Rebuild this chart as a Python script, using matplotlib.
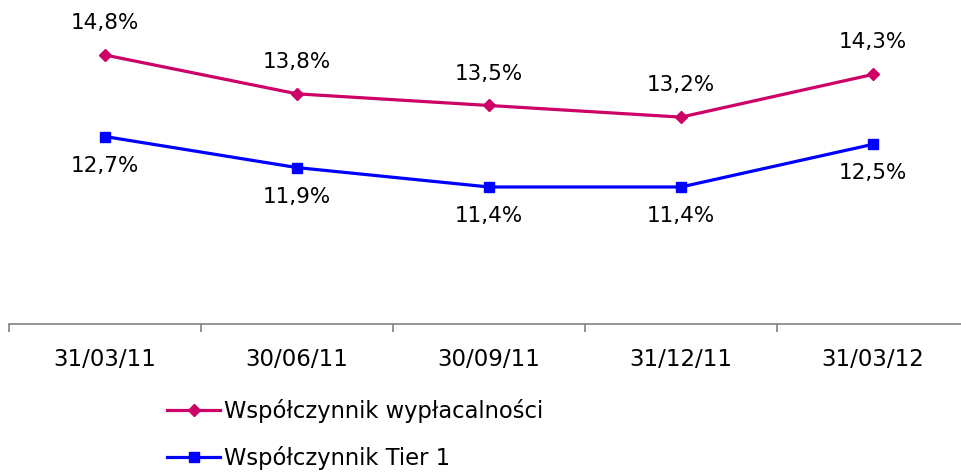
import matplotlib

matplotlib.use('agg')

import matplotlib.pyplot as plt

dates = ['31/03/11', '30/06/11', '30/09/11', '31/12/11', '31/03/12']
solvency = [14.8, 13.8, 13.5, 13.2, 14.3]
tier1 = [12.7, 11.9, 11.4, 11.4, 12.5]
solvency_labels = ['14,8%', '13,8%', '13,5%', '13,2%', '14,3%']
tier1_labels = ['12,7%', '11,9%', '11,4%', '11,4%', '12,5%']

PINK = '#CC0066'
BLUE = '#0000FF'
GRAY = '#808080'

plt.rcParams['font.family'] = ['DejaVu Sans']

W, H = 961, 472
fig = plt.figure(figsize=(W / 100, H / 100), dpi=100)
ax = fig.add_axes([9 / W, 1 - 324 / H, 960 / W, 314 / H])

x = list(range(len(dates)))
l1, = ax.plot(x, solvency, color=PINK, lw=2.3, marker='D', ms=6.5,
              label='Współczynnik wypłacalności')
l2, = ax.plot(x, tier1, color=BLUE, lw=2.3, marker='s', ms=7,
              label='Współczynnik Tier 1')

for xi, v, s in zip(x, solvency, solvency_labels):
    ax.annotate(s, (xi, v), xytext=(0, 23), textcoords='offset points',
                ha='center', va='center', fontsize=15.5)
for xi, v, s in zip(x, tier1, tier1_labels):
    ax.annotate(s, (xi, v), xytext=(0, -21), textcoords='offset points',
                ha='center', va='center', fontsize=15.5)

ax.set_xlim(-0.5, len(dates) - 0.5)
ax.set_ylim(7.87, 15.96)

for side in ['top', 'right', 'left']:
    ax.spines[side].set_visible(False)
ax.spines['bottom'].set_color(GRAY)
ax.spines['bottom'].set_linewidth(1.2)
ax.set_yticks([])

ax.set_xticks(x)
ax.set_xticklabels(dates, fontsize=16.5)
ax.tick_params(axis='x', which='major', length=0, pad=17)
ax.set_xticks([i - 0.5 for i in range(len(dates) + 1)], minor=True)
ax.tick_params(axis='x', which='minor', length=6, width=1.2, color=GRAY,
               direction='out')

fig.legend(handles=[l1, l2], loc='upper left',
           bbox_to_anchor=(158 / W, 1 - 390 / H), frameon=False,
           fontsize=16.3, handlelength=2.35, handletextpad=0.15,
           labelspacing=1.0, borderaxespad=0)

fig.savefig('out.png', dpi=100)
